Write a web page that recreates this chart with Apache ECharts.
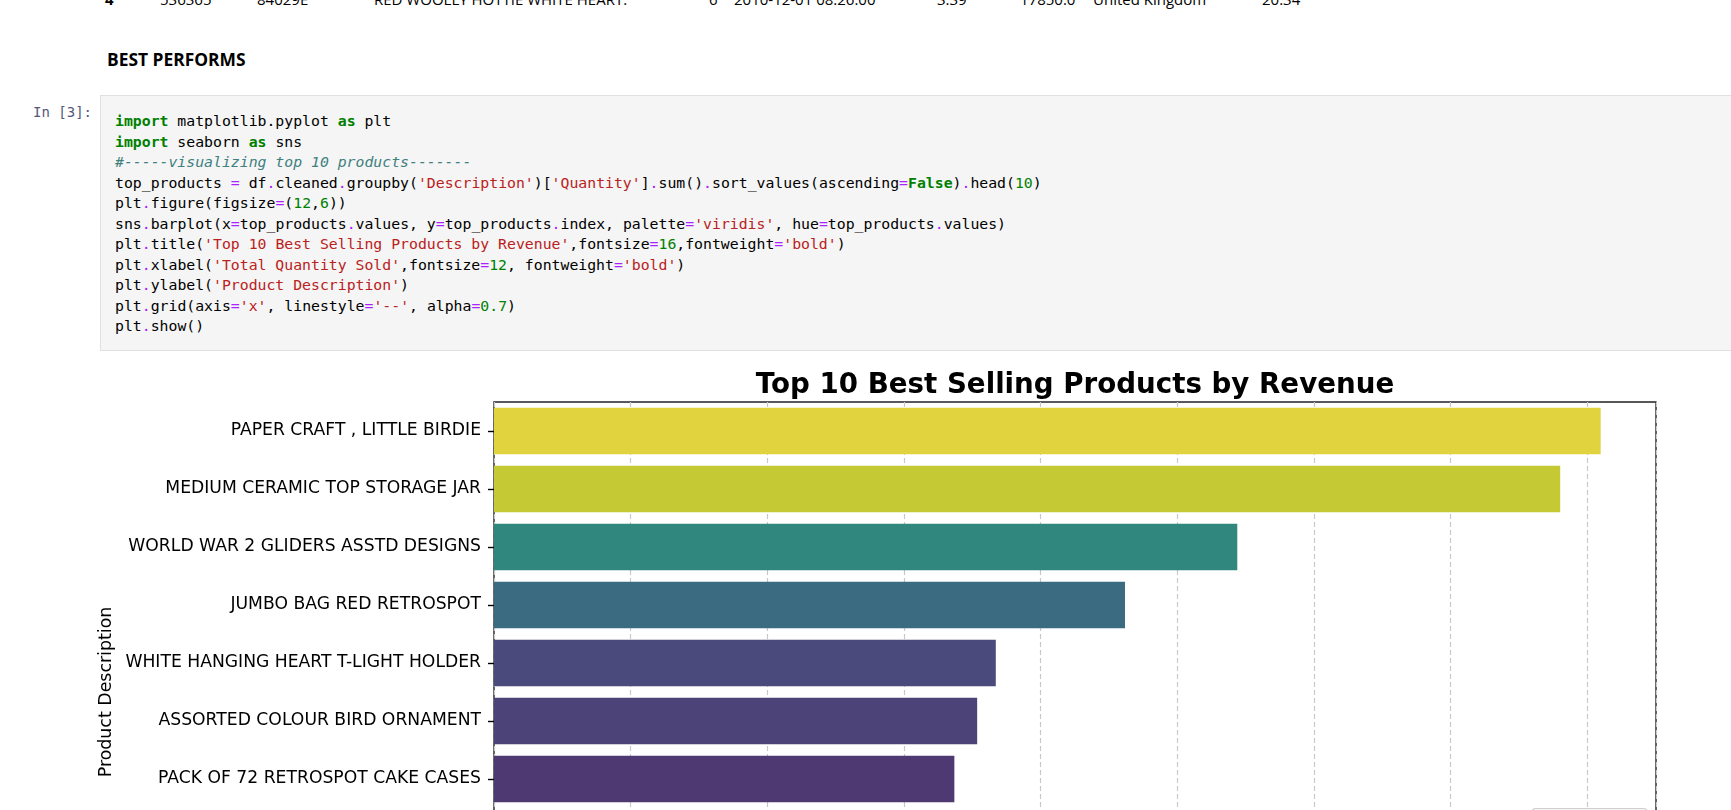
<!DOCTYPE html>
<html>
<head>
<meta charset="utf-8">
<script src="https://cdn.jsdelivr.net/npm/echarts@6/dist/echarts.min.js"></script>
<style>
  html, body { margin: 0; padding: 0; width: 1731px; height: 810px; overflow: hidden; background: #fff; }
  .df-row span { position: absolute; top: -8px; font: 15px "Open Sans", sans-serif; color: #000; line-height: 15px; white-space: nowrap; }
  .md { position: absolute; left: 107px; top: 47px; font: bold 17.4px "Open Sans", sans-serif; color: #000; }
  .prompt { position: absolute; left: 33px; top: 104px; font: 14px "DejaVu Sans Mono", monospace; color: #56587a; }
  .cell { position: absolute; left: 100px; top: 95px; width: 1700px; height: 254px; background: #f5f5f5; border: 1px solid #e0e0e0; }
  .cell pre { margin: 0; position: absolute; left: 14px; top: 15px; font: 14.8px/20.5px "DejaVu Sans Mono", monospace; color: #000; }
  .k { color: #008000; font-weight: bold; }
  .o { color: #aa22ff; }
  .s { color: #ba2121; }
  .m { color: #008000; }
  .c { color: #408080; font-style: italic; }
  #chart { position: absolute; left: 0; top: 340px; width: 1731px; height: 800px; }
</style>
</head>
<body>
<div class="df-row">
  <span style="left:105px;font-weight:bold">4</span>
  <span style="left:160px">536365</span>
  <span style="left:257px">84029E</span>
  <span style="left:374px">RED WOOLLY HOTTIE WHITE HEART.</span>
  <span style="left:709px">6</span>
  <span style="left:734px">2010-12-01 08:26:00</span>
  <span style="left:937px">3.39</span>
  <span style="left:1020px">17850.0</span>
  <span style="left:1093px">United Kingdom</span>
  <span style="left:1262px">20.34</span>
</div>
<div class="md">BEST PERFORMS</div>
<div class="prompt">In [3]:</div>
<div class="cell"><pre><span class="k">import</span> matplotlib.pyplot <span class="k">as</span> plt
<span class="k">import</span> seaborn <span class="k">as</span> sns
<span class="c">#-----visualizing top 10 products-------</span>
top_products <span class="o">=</span> df<span class="o">.</span>cleaned<span class="o">.</span>groupby(<span class="s">'Description'</span>)[<span class="s">'Quantity'</span>]<span class="o">.</span>sum()<span class="o">.</span>sort_values(ascending<span class="o">=</span><span class="k">False</span>)<span class="o">.</span>head(<span class="m">10</span>)
plt<span class="o">.</span>figure(figsize<span class="o">=</span>(<span class="m">12</span>,<span class="m">6</span>))
sns<span class="o">.</span>barplot(x<span class="o">=</span>top_products<span class="o">.</span>values, y<span class="o">=</span>top_products<span class="o">.</span>index, palette<span class="o">=</span><span class="s">'viridis'</span>, hue<span class="o">=</span>top_products<span class="o">.</span>values)
plt<span class="o">.</span>title(<span class="s">'Top 10 Best Selling Products by Revenue'</span>,fontsize<span class="o">=</span><span class="m">16</span>,fontweight<span class="o">=</span><span class="s">'bold'</span>)
plt<span class="o">.</span>xlabel(<span class="s">'Total Quantity Sold'</span>,fontsize<span class="o">=</span><span class="m">12</span>, fontweight<span class="o">=</span><span class="s">'bold'</span>)
plt<span class="o">.</span>ylabel(<span class="s">'Product Description'</span>)
plt<span class="o">.</span>grid(axis<span class="o">=</span><span class="s">'x'</span>, linestyle<span class="o">=</span><span class="s">'--'</span>, alpha<span class="o">=</span><span class="m">0.7</span>)
plt<span class="o">.</span>show()</pre></div>
<div id="chart"></div>
<script>
// top 10 products by total quantity
const products = [
  'PAPER CRAFT , LITTLE BIRDIE',
  'MEDIUM CERAMIC TOP STORAGE JAR',
  'WORLD WAR 2 GLIDERS ASSTD DESIGNS',
  'JUMBO BAG RED RETROSPOT',
  'WHITE HANGING HEART T-LIGHT HOLDER',
  'ASSORTED COLOUR BIRD ORNAMENT',
  'PACK OF 72 RETROSPOT CAKE CASES',
  'POPCORN HOLDER',
  'RABBIT NIGHT LIGHT',
  'MINI PAINT SET VINTAGE',
];
const quantities = [80995, 78033, 54400, 46181, 36725, 35362, 33693, 30931, 27202, 26076];

// viridis (desaturated, as seaborn draws it), mapped by hue = quantity
const barColors = ['#e1d33e', '#c4c934', '#2f877d', '#3a6b80', '#4a4a7c',
                   '#4c4378', '#4f3973', '#4e2d6c', '#4c1e61', '#49145a'];

const FONT = 'DejaVu Sans';
const chart = echarts.init(document.getElementById('chart'), null, { renderer: 'canvas' });

chart.setOption({
  animation: false,
  backgroundColor: 'transparent',
  title: {
    text: 'Top 10 Best Selling Products by Revenue',
    left: 1075,
    top: 31.5,
    padding: 0,
    textAlign: 'center',
    textStyle: { fontFamily: FONT, fontWeight: 'bold', fontSize: 27.7, color: '#000' },
  },
  grid: {
    left: 494, top: 62, width: 1162, height: 580,
    show: true, borderColor: '#222', borderWidth: 1.4, backgroundColor: 'transparent',
  },
  xAxis: {
    type: 'value',
    min: 0,
    max: Math.round(Math.max(...quantities) * 1.05),
    interval: 10000,
    name: 'Total Quantity Sold',
    nameLocation: 'middle',
    nameGap: 42,
    nameTextStyle: { fontFamily: FONT, fontWeight: 'bold', fontSize: 20.8, color: '#000' },
    axisLine: { show: false },
    axisTick: { show: true, length: 6, lineStyle: { color: '#000', width: 1.4 } },
    axisLabel: { fontFamily: FONT, fontSize: 17.4, color: '#000', margin: 12, showMaxLabel: false },
    splitLine: { show: true, lineStyle: { color: '#c8c8c8', width: 1.2, type: [5, 3] } },
  },
  yAxis: {
    type: 'category',
    data: products,
    inverse: true,
    name: 'Product Description',
    nameLocation: 'middle',
    nameRotate: 90,
    nameGap: 374,
    nameTextStyle: { fontFamily: FONT, fontSize: 17.4, color: '#000' },
    axisLine: { show: false },
    axisTick: { show: true, alignWithLabel: true, length: 6, lineStyle: { color: '#000', width: 1.4 } },
    axisLabel: { fontFamily: FONT, fontSize: 17.2, color: '#000', margin: 13 },
    splitLine: { show: false },
  },
  series: [{
    type: 'bar',
    barCategoryGap: '20%',
    data: quantities.map((v, i) => ({ value: v, itemStyle: { color: barColors[i] } })),
  }],
  graphic: [{
    // seaborn hue legend box, lower right of the axes (only its top edge shows)
    type: 'rect',
    left: 1531, top: 468,
    shape: { width: 116, height: 165, r: 4 },
    style: { fill: 'rgba(255,255,255,0.8)', stroke: '#d0d0d0', lineWidth: 1.2 },
    z: 10,
  }],
});
</script>
</body>
</html>
